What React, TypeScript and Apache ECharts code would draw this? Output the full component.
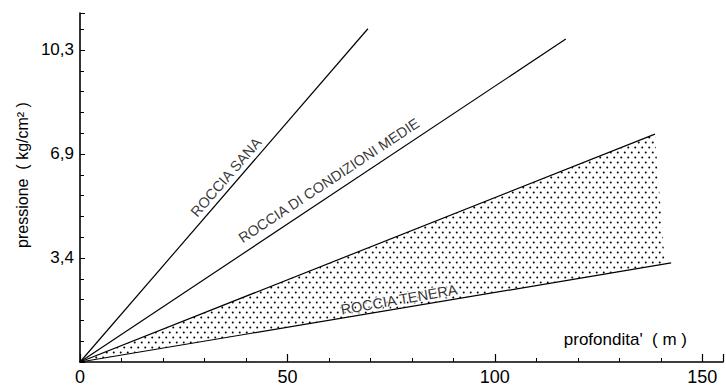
import { useEffect, useRef } from "react";
import * as echarts from "echarts";

// ---- data ----
const depthTicks = [0, 50, 100, 150];
const pressureTickValues = [10.3 / 3, 20.6 / 3, 10.3];
const pressureTickLabels = ["3,4", "6,9", "10,3"];

const rocciaSana = [[0, 0], [69.4, 11.0]];
const rocciaMedie = [[0, 0], [117.1, 10.66]];
const teneraUpper = [[0, 0], [138.6, 7.52]];
const teneraLower = [[0, 0], [142.5, 3.27]];
const teneraBand = [[0, 0], [138.6, 7.52], [141.0, 3.24]];

const curveNames = ["ROCCIA SANA", "ROCCIA DI CONDIZIONI MEDIE", "ROCCIA TENERA"];
const curveLabelAt = [[35.2, 6.1], [60.0, 5.99], [76.9, 2.06]];
const curveLabelAngle = [49, 33.5, 10];

const FONT = "Liberation Sans";

function makeDotPattern(): HTMLCanvasElement {
  const c = document.createElement("canvas");
  c.width = 7;
  c.height = 10;
  const ctx = c.getContext("2d")!;
  ctx.fillStyle = "#000";
  ctx.beginPath();
  ctx.arc(1.75, 2.5, 1.0, 0, Math.PI * 2);
  ctx.fill();
  ctx.beginPath();
  ctx.arc(5.25, 7.5, 1.0, 0, Math.PI * 2);
  ctx.fill();
  return c;
}

export default function App() {
  const ref = useRef<HTMLDivElement>(null);

  useEffect(() => {
    if (!ref.current) return;
    const chart = echarts.init(ref.current, undefined, { renderer: "svg" });
    const pattern = makeDotPattern();

    const lineStyle = { color: "#000", width: 1.2 };

    chart.setOption({
      animation: false,
      backgroundColor: "#fff",
      grid: { left: 80, right: 0, top: 13, bottom: 26, containLabel: false },
      xAxis: {
        type: "value",
        min: 0,
        max: 155,
        interval: 50,
        splitLine: { show: false },
        axisLine: { show: true, lineStyle: { color: "#000", width: 1.6 } },
        axisTick: { show: true, inside: true, length: 8, lineStyle: { color: "#000", width: 1.2 } },
        minorTick: { show: true, splitNumber: 5, length: 4, lineStyle: { color: "#000", width: 1 } },
        axisLabel: {
          color: "#000",
          fontFamily: FONT,
          fontSize: 18,
          margin: 6,
          formatter: (v: number) => (depthTicks.includes(v) ? String(v) : ""),
        },
        name: "profondita'  ( m )",
        nameLocation: "end",
        nameGap: -36,
        nameTextStyle: {
          color: "#000",
          fontFamily: FONT,
          fontSize: 17,
          align: "right",
          verticalAlign: "bottom",
          padding: [0, 0, 14, 0],
        },
      },
      yAxis: {
        type: "value",
        min: 0,
        max: 11.52,
        interval: 10.3 / 3,
        splitLine: { show: false },
        axisLine: { show: true, lineStyle: { color: "#000", width: 1.6 } },
        axisTick: { show: true, inside: true, length: 5, lineStyle: { color: "#000", width: 1 } },
        minorTick: { show: true, splitNumber: 5, length: 4, lineStyle: { color: "#000", width: 1 } },
        axisLabel: {
          color: "#000",
          fontFamily: FONT,
          fontSize: 17,
          margin: 6,
          formatter: (v: number) => {
            const i = pressureTickValues.findIndex((t) => Math.abs(t - v) < 1e-6);
            return i >= 0 ? pressureTickLabels[i] : "";
          },
        },
        name: "pressione  ( kg/cm² )",
        nameLocation: "middle",
        nameRotate: 90,
        nameGap: 48,
        nameTextStyle: {
          color: "#000",
          fontFamily: FONT,
          fontSize: 16,
          padding: [0, 0, 0, 25],
        },
      },
      series: [
        {
          type: "custom",
          data: teneraBand,
          clip: false,
          silent: true,
          renderItem: (params: any, api: any) => {
            if (params.dataIndex !== 0) return null;
            const pts = teneraBand.map((p) => api.coord(p));
            return {
              type: "polygon",
              shape: { points: pts },
              style: {
                fill: { image: pattern, repeat: "repeat", imageWidth: 7, imageHeight: 10 },
                stroke: "none",
              },
            };
          },
          z: 1,
        },
        { type: "line", data: rocciaSana, symbol: "none", lineStyle, z: 3 },
        { type: "line", data: rocciaMedie, symbol: "none", lineStyle, z: 3 },
        { type: "line", data: teneraUpper, symbol: "none", lineStyle, z: 3 },
        { type: "line", data: teneraLower, symbol: "none", lineStyle, z: 3 },
        ...curveNames.map((name, i) => ({
          type: "scatter",
          data: [curveLabelAt[i]],
          symbolSize: 0,
          silent: true,
          z: 4,
          label: {
            show: true,
            position: "inside",
            formatter: () => name,
            rotate: curveLabelAngle[i],
            align: "center",
            verticalAlign: "middle",
            color: "#000",
            fontFamily: FONT,
            fontSize: 14.5,
            textBorderColor: "#fff",
            textBorderWidth: 2.5,
          },
        })),
      ],
    });

    return () => chart.dispose();
  }, []);

  return (
    <div
      ref={ref}
      style={{ position: "fixed", left: 0, top: 0, width: 726, height: 388, background: "#fff" }}
    />
  );
}
